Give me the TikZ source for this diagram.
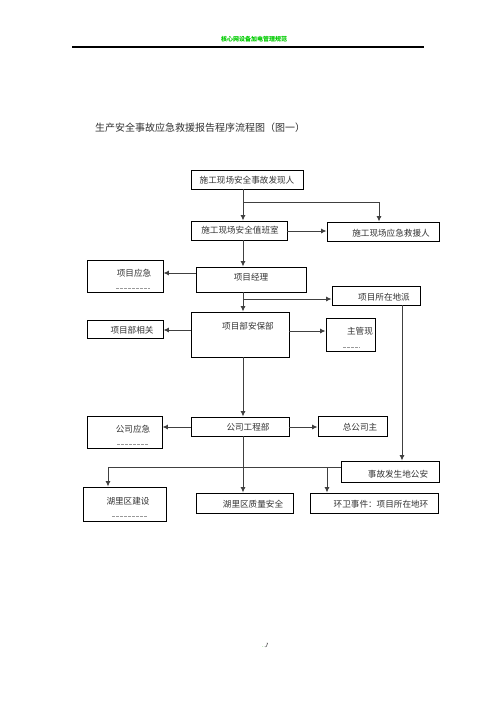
\documentclass[tikz,border=0pt]{standalone}
\usepackage{fontspec}
\newfontfamily\cjk{Noto Sans CJK SC}
\usetikzlibrary{arrows.meta}
\begin{document}
\begin{tikzpicture}[x=1pt,y=-1pt,
  box/.style={draw=black,line width=0.8pt,inner sep=0pt},
  txt/.style={font=\cjk\fontsize{8.6}{9}\selectfont,text=black!80,inner sep=0pt},
  conn/.style={draw=black!75,line width=1pt},
  arr/.style={conn,-{Latex[length=5.5pt,width=5pt]}},
  frag/.style={draw=black!40,line width=0.5pt,dash pattern=on 2.5pt off 1.5pt}]
\useasboundingbox[fill=white] (0,0) rectangle (496,702);
% boxes: corner coordinates in pixels
\newcommand\mybox[5]{\node[box,minimum width={#4-#2},minimum height={#5-#3}] (#1) at ({(#2+#4)/2},{(#3+#5)/2}) {};}
% header
\node[font=\cjk\bfseries\fontsize{6}{6}\selectfont,text=green!80!black,inner sep=0pt] (hdr) at (254,39) {核心网设备加电管理规范};
\coordinate (hl) at (72,47);
\coordinate (hr) at (424,47);
\draw[line width=1.2pt] (hl) -- (hr);
% title
\node[font=\cjk\fontsize{10}{10}\selectfont,text=black!80,anchor=west,inner sep=0pt] (title) at (95,128) {生产安全事故应急救援报告程序流程图（图一）};
% boxes
\mybox{a}{191}{170}{303}{189}
\mybox{b}{191}{221}{287}{240}
\mybox{c}{327}{222}{439}{241}
\mybox{d}{87}{260}{163}{292}
\mybox{e}{196}{267}{306}{292}
\mybox{f}{332}{286}{420}{305}
\mybox{g}{191}{312}{289}{357}
\mybox{h}{87}{320}{163}{338}
\mybox{i}{326}{318}{375}{351}
\mybox{j}{87}{416}{162}{448}
\mybox{k}{191}{417}{289}{436}
\mybox{l}{318}{416}{387}{436}
\mybox{m}{341}{461}{439}{482}
\mybox{n}{83}{487}{166}{521}
\mybox{o}{196}{493}{293}{513}
\mybox{p}{310}{493}{438}{513}
% texts
\node[txt] (ta) at (247,180) {施工现场安全事故发现人};
\node[txt] (tb) at (240,230) {施工现场安全值班室};
\node[txt] (tc) at (391,233) {施工现场应急救援人};
\node[txt] (td) at (134,273) {项目应急};
\node[txt] (te) at (251,277) {项目经理};
\node[txt] (tf) at (384,297) {项目所在地派};
\node[txt] (tg) at (248,326) {项目部安保部};
\node[txt] (th) at (132,330) {项目部相关};
\node[txt] (ti) at (360,331) {主管现};
\node[txt] (tj) at (133,429) {公司应急};
\node[txt] (tk) at (248,427) {公司工程部};
\node[txt] (tl) at (360,427) {总公司主};
\node[txt] (tm) at (398,474) {事故发生地公安};
\node[txt] (tn) at (128,501) {湖里区建设};
\node[txt] (to) at (253,504) {湖里区质量安全};
\node[txt] (tp) at (381,504) {环卫事件：项目所在地环};
% clipped text fragments
\coordinate (d1) at (116,288); \coordinate (d2) at (150,288);
\coordinate (i1) at (343,347); \coordinate (i2) at (360,347);
\coordinate (j1) at (117,444); \coordinate (j2) at (149,444);
\coordinate (n1) at (112,516); \coordinate (n2) at (148,516);
\draw[frag] (d1) -- (d2);
\draw[frag] (i1) -- (i2);
\draw[frag] (j1) -- (j2);
\draw[frag] (n1) -- (n2);
% connectors
\coordinate (ab) at (243,202);
\coordinate (ef) at (243,299);
\coordinate (mw) at (341,467);
\coordinate (nl) at (108,467);
\coordinate (pb) at (327,467);
\draw[arr] (a.south -| 243,0) -- (b.north -| 243,0);
\draw[arr] (ab) -| (c.north -| 379,0);
\draw[arr] (b.east |- 0,231) -- (c.west |- 0,231);
\draw[arr] (b.south -| 243,0) -- (e.north -| 243,0);
\draw[arr] (e.west |- 0,273) -- (d.east |- 0,273);
\draw[arr] (e.south -| 243,0) -- (g.north -| 243,0);
\draw[arr] (ef) -- (f.west |- ef);
\draw[arr] (g.west |- 0,330) -- (h.east |- 0,330);
\draw[arr] (g.east |- 0,331) -- (i.west |- 0,331);
\draw[arr] (f.south -| 402,0) -- (m.north -| 402,0);
\draw[arr] (g.south -| 243,0) -- (k.north -| 243,0);
\draw[arr] (k.west |- 0,427) -- (j.east |- 0,427);
\draw[arr] (k.east |- 0,427) -- (l.west |- 0,427);
\draw[arr] (k.south -| 243,0) -- (o.north -| 243,0);
\draw[arr] (mw) -- (nl) -- (n.north -| nl);
\draw[arr] (pb) -- (p.north -| pb);
% page mark
\node[font=\fontsize{6}{6}\selectfont,inner sep=0pt] (pg) at (265,646) {\textcolor{green!70!black}{.}\textit{J}};
\end{tikzpicture}
\end{document}
